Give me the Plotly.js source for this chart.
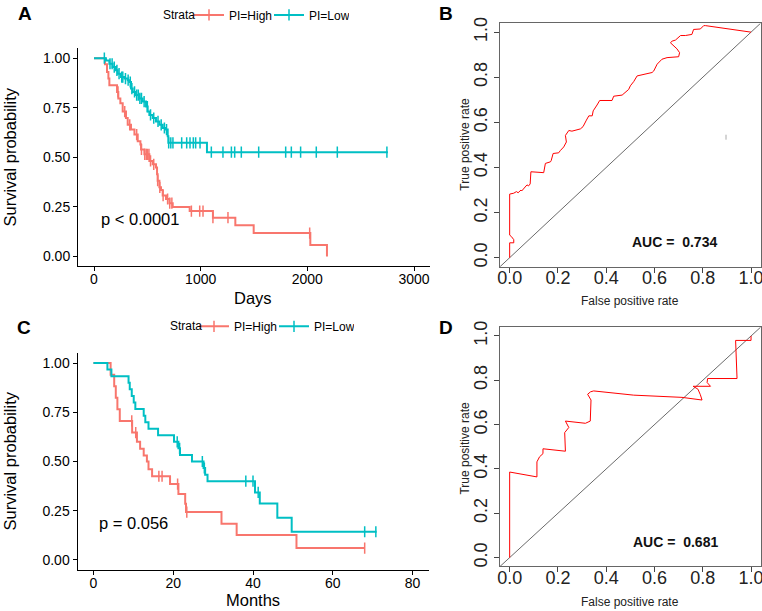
<!DOCTYPE html>
<html><head><meta charset="utf-8">
<script src="https://cdn.plot.ly/plotly-3.0.1.min.js"></script>
<style>html,body{margin:0;padding:0;background:#fff}</style>
</head><body><div id="chart" style="width:762px;height:611px"></div>
<script>
// ---------- Panel A: Kaplan-Meier, days ----------
const aHighT = [0,103,122,135,144,216,228,247,269,300,316,347,379,410,435,441,472,519,550,581,591,597,613,628,644,675,707,738,897,1115,1325,1497,2028,2184];
const aHighS = [1,0.97,0.93,0.897,0.864,0.83,0.797,0.773,0.731,0.698,0.664,0.64,0.615,0.581,0.565,0.54,0.515,0.482,0.465,0.449,0.415,0.382,0.349,0.335,0.307,0.29,0.269,0.249,0.229,0.196,0.158,0.118,0.058,0];
const aHighCensor = [225,288,335,400,445,476,491,500,515,530,560,597,617,648,690,710,730,913,991,1022,1115,1256,2022];
const aLowT = [0,112,144,175,206,222,253,285,316,331,347,363,394,425,456,488,503,519,550,581,613,644,675,691,697,1059,2755];
const aLowS = [1,0.989,0.972,0.955,0.939,0.922,0.905,0.897,0.889,0.88,0.847,0.83,0.814,0.797,0.781,0.756,0.731,0.714,0.698,0.681,0.664,0.648,0.64,0.606,0.573,0.526,0.526];
const aLowCensor = [97,150,170,190,215,235,260,270,295,320,340,355,380,400,415,430,445,470,500,530,560,600,630,660,680,700,720,740,822,869,900,931,953,994,1100,1209,1288,1319,1381,1544,1797,1850,1937,2084,2281,2746];
const aXTicks = [0,1000,2000,3000];

// ---------- Panel C: Kaplan-Meier, months ----------
const cHighT = [0,4.3,5.2,5.6,6.0,6.6,9.7,10.9,11.7,12.6,13.4,13.8,14.7,19.2,21.3,23.0,23.2,32.1,35.9,50.9,68.0];
const cHighS = [1,0.941,0.882,0.824,0.765,0.706,0.647,0.6,0.565,0.53,0.5,0.46,0.425,0.385,0.335,0.285,0.243,0.184,0.126,0.06,0.06];
const cHighCensor = [9.6,10.6,16.4,17.2,21.1,23.4,68.0];
const cLowT = [0,3.5,4.5,8.8,9.1,9.6,10.1,10.5,12.6,13.0,13.8,16.2,20.2,21.3,21.7,24.7,27.6,28.0,28.6,40.5,41.7,46.1,49.7,71.0];
const cLowS = [1,0.967,0.933,0.9,0.867,0.833,0.8,0.767,0.733,0.7,0.667,0.633,0.6,0.567,0.533,0.5,0.467,0.433,0.4,0.343,0.286,0.214,0.143,0.143];
const cLowCensor = [21.0,21.6,27.3,27.8,38.2,40.0,41.3,68.0,70.8];
const cXTicks = [0,20,40,60,80];

const survTicks = [0,0.25,0.5,0.75,1];
const survTickText = ['0.00','0.25','0.50','0.75','1.00'];
const strata = ['PI=High','PI=Low'];

// ---------- Panel B: ROC ----------
const bFpr = [0,0,0.017,0.017,0.007,0,0,0.017,0.028,0.035,0.047,0.05,0.072,0.078,0.085,0.088,0.141,0.148,0.169,0.172,0.18,0.203,0.21,0.224,0.235,0.231,0.245,0.258,0.293,0.304,0.318,0.328,0.342,0.346,0.362,0.373,0.424,0.431,0.466,0.484,0.493,0.5,0.514,0.528,0.555,0.59,0.597,0.611,0.631,0.652,0.7,0.704,0.693,0.666,0.673,0.687,0.708,0.728,0.755,0.762,0.79,0.804,0.811,1.0];
const bTpr = [0,0.066,0.066,0.08,0.094,0.1,0.282,0.286,0.293,0.288,0.3,0.296,0.323,0.318,0.327,0.381,0.377,0.418,0.425,0.43,0.462,0.465,0.475,0.491,0.513,0.542,0.564,0.561,0.571,0.581,0.61,0.629,0.629,0.651,0.677,0.697,0.697,0.716,0.721,0.736,0.746,0.762,0.781,0.806,0.814,0.821,0.828,0.858,0.88,0.887,0.891,0.909,0.926,0.953,0.96,0.965,0.985,0.985,0.99,1.012,1.014,1.029,1.029,1.0];
const bAuc = '0.734';

// ---------- Panel D: ROC ----------
const dFpr = [0,0,0.113,0.113,0.124,0.138,0.138,0.231,0.228,0.245,0.231,0.314,0.334,0.337,0.323,0.335,0.348,0.514,0.714,0.797,0.79,0.78,0.76,0.832,0.818,0.82,0.942,0.938,0.936,1.0,1.0];
const dTpr = [0,0.386,0.364,0.432,0.455,0.469,0.491,0.48,0.564,0.587,0.616,0.606,0.616,0.711,0.737,0.748,0.752,0.733,0.723,0.711,0.735,0.76,0.773,0.773,0.79,0.808,0.808,0.94,0.98,0.98,1.0];
const dAuc = '0.681';

const rocTicks = [0,0.2,0.4,0.6,0.8,1.0];
const diag = [-0.04,1.04];

// ---------- helpers ----------
const RED = '#F8766D', TEAL = '#00BFC4';
const FONT = 'Liberation Sans, Arial, sans-serif';
const W = 762, H = 611;
const px = v => v / W, py = v => 1 - v / H;
function stepAt(T, S, t) { let s = S[0]; for (let i = 0; i < T.length; i++) { if (T[i] <= t) s = S[i]; else break; } return s; }

function kmTraces(T, S, C, color, xa, ya, name, legendId) {
  return [
    {x: T, y: S, mode: 'lines', line: {shape: 'hv', color: color, width: 2}, xaxis: xa, yaxis: ya, showlegend: false, hoverinfo: 'x+y', name: name},
    {x: C, y: C.map(t => stepAt(T, S, t)), mode: 'markers', marker: {symbol: 'line-ns-open', size: 8, color: color, line: {color: color, width: 1.5}}, xaxis: xa, yaxis: ya, showlegend: false, hoverinfo: 'x+y', name: name},
    {x: [null], y: [null], mode: 'lines+markers', line: {color: color, width: 2}, marker: {symbol: 'line-ns-open', size: 8, color: color, line: {color: color, width: 1.5}}, xaxis: xa, yaxis: ya, showlegend: true, legend: legendId, name: name}
  ];
}

const data = [].concat(
  kmTraces(aHighT, aHighS, aHighCensor, RED, 'x', 'y', strata[0], 'legend'),
  kmTraces(aLowT, aLowS, aLowCensor, TEAL, 'x', 'y', strata[1], 'legend'),
  kmTraces(cHighT, cHighS, cHighCensor, RED, 'x3', 'y3', strata[0], 'legend2'),
  kmTraces(cLowT, cLowS, cLowCensor, TEAL, 'x3', 'y3', strata[1], 'legend2'),
  [
    {x: diag, y: diag, mode: 'lines', line: {color: '#444', width: 0.8}, xaxis: 'x2', yaxis: 'y2', showlegend: false, hoverinfo: 'skip'},
    {x: bFpr, y: bTpr, mode: 'lines', line: {color: '#FF0000', width: 1}, xaxis: 'x2', yaxis: 'y2', showlegend: false, name: 'ROC'},
    {x: diag, y: diag, mode: 'lines', line: {color: '#444', width: 0.8}, xaxis: 'x4', yaxis: 'y4', showlegend: false, hoverinfo: 'skip'},
    {x: dFpr, y: dTpr, mode: 'lines', line: {color: '#FF0000', width: 1}, xaxis: 'x4', yaxis: 'y4', showlegend: false, name: 'ROC'}
  ]
);

const kmAxis = {showline: true, linecolor: '#000', linewidth: 1, ticks: 'outside', ticklen: 4, tickcolor: '#000', tickwidth: 1, showgrid: false, zeroline: false, tickfont: {size: 14, color: '#000', family: FONT}, ticklabeloverflow: 'allow'};
const rocAxis = {showline: true, mirror: true, linecolor: '#666', linewidth: 1, ticks: 'outside', ticklen: 5, tickcolor: '#444', showgrid: false, zeroline: false, tickfont: {size: 18, color: '#222', family: FONT}, tickvals: rocTicks, tickformat: '.1f', ticklabeloverflow: 'allow'};

function ann(text, x, y, size, extra) {
  return Object.assign({text: text, x: px(x), y: py(y), xref: 'paper', yref: 'paper', xanchor: 'center', yanchor: 'middle', showarrow: false, font: {size: size, family: FONT, color: '#000'}}, extra || {});
}

const legendBase = {orientation: 'h', xanchor: 'left', yanchor: 'middle', bgcolor: 'rgba(0,0,0,0)', borderwidth: 0, font: {size: 12, family: FONT, color: '#000'}, itemwidth: 30, entrywidth: 35, entrywidthmode: 'pixels'};

const layout = {
  width: W, height: H, margin: {l: 0, r: 0, t: 0, b: 0},
  paper_bgcolor: '#fff', plot_bgcolor: '#fff',
  font: {family: FONT, color: '#000'},
  showlegend: true,
  xaxis: Object.assign({}, kmAxis, {domain: [px(78), px(430)], range: [-150, 3150], tickvals: aXTicks, anchor: 'y', ticklabelstandoff: -4}),
  yaxis: Object.assign({}, kmAxis, {domain: [py(263), py(42.7)], range: [-0.05, 1.05], tickvals: survTicks, ticktext: survTickText, anchor: 'x'}),
  xaxis3: Object.assign({}, kmAxis, {domain: [px(77.5), px(428.5)], range: [-4, 84], tickvals: cXTicks, anchor: 'y3', ticklabelstandoff: -4}),
  yaxis3: Object.assign({}, kmAxis, {domain: [py(569.3), py(350.7)], range: [-0.05, 1.05], tickvals: survTicks, ticktext: survTickText, anchor: 'x3'}),
  xaxis2: Object.assign({}, rocAxis, {domain: [px(500), px(760.7)], range: [-0.04, 1.04], anchor: 'y2', ticklabelstandoff: -10}),
  yaxis2: Object.assign({}, rocAxis, {domain: [py(263.3), py(17.3)], range: [-0.04, 1.04], tickangle: -90, anchor: 'x2'}),
  xaxis4: Object.assign({}, rocAxis, {domain: [px(500), px(760.7)], range: [-0.04, 1.04], anchor: 'y4', ticklabelstandoff: -10}),
  yaxis4: Object.assign({}, rocAxis, {domain: [py(566), py(324.3)], range: [-0.04, 1.04], tickangle: -90, anchor: 'x4'}),
  legend: Object.assign({}, legendBase, {x: px(189), y: py(9)}),
  legend2: Object.assign({}, legendBase, {x: px(194), y: py(323.5)}),
  annotations: [
    ann('<b>A</b>', 25, 7.5, 19),
    ann('<b>B</b>', 446, 7.5, 19),
    ann('<b>C</b>', 24, 325, 19),
    ann('<b>D</b>', 446, 325, 19),
    ann('Strata', 179, 9, 12),
    ann('Strata', 186, 323.5, 12),
    ann('Survival probability', 10, 153, 16.5, {textangle: -90}),
    ann('Survival probability', 10, 460, 16.5, {textangle: -90}),
    ann('Days', 253, 295, 16.5),
    ann('Months', 253, 600, 16.5),
    ann('p &lt; 0.0001', 140, 215, 16.5),
    ann('p = 0.056', 133, 522, 16.5),
    ann('True positive rate', 465, 140, 12, {textangle: -90, font: {size: 12, family: FONT, color: '#222'}}),
    ann('True positive rate', 465, 447, 12, {textangle: -90, font: {size: 12, family: FONT, color: '#222'}}),
    ann('False positive rate', 630, 298, 12, {font: {size: 12, family: FONT, color: '#222'}}),
    ann('False positive rate', 630, 601.5, 12, {font: {size: 12, family: FONT, color: '#222'}}),
    ann('<b>AUC = \u00A0' + bAuc + '</b>', 674, 238.5, 14, {font: {size: 14, family: FONT, color: '#111'}}),
    ann('<b>AUC = \u00A0' + dAuc + '</b>', 675, 541, 14, {font: {size: 14, family: FONT, color: '#111'}})
  ],
  shapes: [
    {type: 'line', xref: 'paper', yref: 'paper', x0: px(726), x1: px(726), y0: py(130), y1: py(135), line: {color: '#aaa', width: 1}}
  ]
};

Plotly.newPlot('chart', data, layout, {displayModeBar: false, staticPlot: true});
</script>
</body></html>
